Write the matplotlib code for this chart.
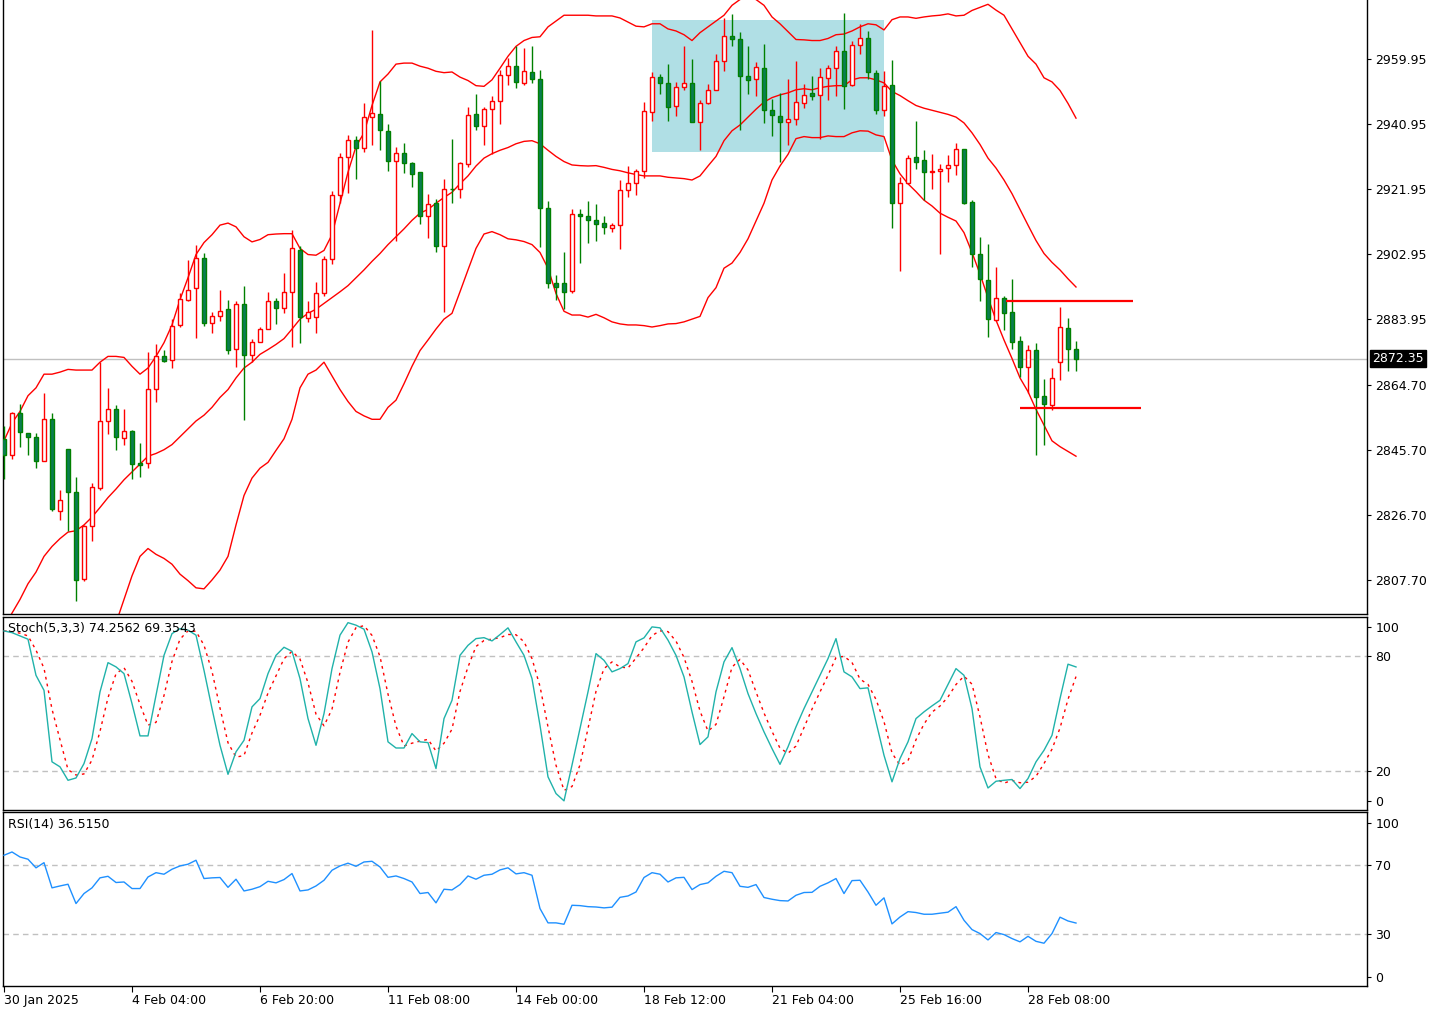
import matplotlib
matplotlib.use('Agg')
import matplotlib.pyplot as plt
from matplotlib.patches import Rectangle
import numpy as np
import pandas as pd

plt.rcParams['font.family'] = ['DejaVu Sans']

opens = [2848.9, 2844.1, 2856.3, 2850.6, 2849.5, 2842.3, 2854.7, 2827.9, 2845.8, 2833.2,
         2808.0, 2823.3, 2834.6, 2854.1, 2857.5, 2849.1, 2851.2, 2841.7, 2841.7, 2863.5,
         2873.1, 2872.0, 2882.2, 2889.4, 2892.9, 2901.9, 2882.8, 2884.9, 2886.8, 2875.3,
         2888.2, 2873.4, 2877.3, 2881.0, 2889.3, 2887.1, 2891.9, 2904.2, 2884.1, 2884.4,
         2891.6, 2901.5, 2920.1, 2931.2, 2936.3, 2934.1, 2943.0, 2943.8, 2938.9, 2930.2,
         2932.4, 2929.5, 2926.8, 2914.2, 2917.8, 2905.4, 2922.1, 2921.9, 2929.2, 2943.8,
         2940.4, 2945.5, 2947.7, 2955.3, 2957.9, 2953.0, 2956.2, 2954.1, 2916.3, 2894.6,
         2894.6, 2892.2, 2914.8, 2914.2, 2912.8, 2911.9, 2910.6, 2911.4, 2921.8, 2923.7,
         2927.2, 2944.5, 2954.7, 2953.0, 2946.2, 2951.8, 2953.1, 2941.5, 2947.0, 2950.8,
         2959.4, 2966.8, 2965.8, 2955.1, 2954.1, 2957.3, 2945.0, 2943.2, 2941.5, 2942.4,
         2947.2, 2950.1, 2949.5, 2954.5, 2957.3, 2962.2, 2952.4, 2964.2, 2966.0, 2955.9,
         2945.0, 2952.4, 2917.8, 2923.8, 2931.2, 2930.4, 2926.8, 2927.2, 2928.1, 2928.9,
         2933.6, 2918.3, 2903.1, 2895.4, 2883.7, 2890.2, 2885.9, 2877.4, 2869.9, 2875.0,
         2861.5, 2858.9, 2871.5, 2881.4, 2875.3]
highs = [2852.7, 2856.6, 2859.2, 2850.6, 2850.6, 2862.3, 2856.4, 2834.0, 2845.8, 2837.7,
         2823.7, 2835.9, 2871.3, 2863.8, 2858.9, 2857.5, 2851.6, 2847.8, 2874.2, 2876.5,
         2875.0, 2883.9, 2891.4, 2901.1, 2905.7, 2903.2, 2886.1, 2892.3, 2889.6, 2889.3,
         2893.7, 2878.1, 2881.6, 2891.7, 2890.2, 2897.3, 2910.1, 2905.4, 2889.1, 2894.8,
         2902.3, 2921.5, 2932.4, 2937.8, 2937.5, 2947.2, 2968.5, 2953.7, 2940.9, 2934.2,
         2935.3, 2930.0, 2926.8, 2920.6, 2918.9, 2924.9, 2936.5, 2930.0, 2945.9, 2949.9,
         2946.1, 2949.2, 2956.8, 2960.2, 2963.9, 2963.1, 2963.9, 2956.8, 2918.6, 2896.9,
         2903.4, 2916.0, 2916.0, 2918.6, 2917.5, 2914.0, 2912.0, 2924.6, 2928.7, 2927.9,
         2947.4, 2956.2, 2955.6, 2958.5, 2953.3, 2963.9, 2959.9, 2947.9, 2952.8, 2961.6,
         2971.9, 2973.1, 2968.0, 2963.7, 2959.1, 2964.5, 2948.4, 2950.1, 2954.2, 2959.4,
         2952.8, 2955.1, 2957.3, 2958.1, 2963.7, 2973.6, 2965.4, 2970.3, 2968.2, 2956.8,
         2956.4, 2959.6, 2925.4, 2931.8, 2941.9, 2933.5, 2932.3, 2929.2, 2931.9, 2935.3,
         2933.6, 2918.7, 2908.0, 2905.9, 2899.1, 2890.6, 2895.6, 2879.0, 2876.2, 2876.8,
         2866.4, 2869.6, 2887.4, 2884.1, 2877.6]
lows = [2837.2, 2843.0, 2846.6, 2844.1, 2840.3, 2842.3, 2827.7, 2825.2, 2822.0, 2801.5,
        2807.3, 2819.1, 2833.8, 2850.4, 2845.7, 2847.0, 2837.1, 2837.7, 2840.3, 2859.8,
        2871.3, 2869.6, 2881.6, 2889.1, 2878.4, 2881.8, 2879.8, 2883.3, 2873.6, 2869.8,
        2854.3, 2871.3, 2877.3, 2881.0, 2882.4, 2885.6, 2875.7, 2877.0, 2883.0, 2879.8,
        2890.6, 2900.0, 2917.8, 2920.9, 2925.0, 2932.9, 2934.7, 2933.3, 2927.3, 2906.9,
        2926.6, 2922.7, 2911.8, 2907.7, 2903.6, 2886.0, 2917.8, 2919.3, 2928.3, 2939.3,
        2934.7, 2932.3, 2940.9, 2952.4, 2951.4, 2952.4, 2953.0, 2904.9, 2892.9, 2889.6,
        2887.0, 2891.6, 2900.3, 2906.1, 2906.9, 2908.8, 2909.5, 2904.3, 2919.7, 2920.3,
        2925.2, 2941.9, 2949.9, 2941.9, 2943.3, 2950.8, 2941.7, 2933.3, 2946.7, 2950.8,
        2956.4, 2963.9, 2939.3, 2949.7, 2949.1, 2941.2, 2937.6, 2929.8, 2934.7, 2940.7,
        2945.6, 2947.9, 2936.7, 2947.9, 2949.3, 2945.3, 2952.0, 2961.4, 2954.1, 2943.9,
        2943.3, 2910.6, 2898.0, 2923.3, 2927.9, 2918.7, 2922.1, 2903.1, 2924.1, 2926.1,
        2917.5, 2899.2, 2889.3, 2878.7, 2883.3, 2880.8, 2875.1, 2867.0, 2862.3, 2844.1,
        2847.0, 2857.2, 2866.1, 2868.7, 2868.7]
closes = [2844.1, 2856.3, 2850.9, 2849.3, 2842.3, 2854.7, 2828.3, 2830.9, 2833.2, 2807.7,
          2823.3, 2834.7, 2854.1, 2857.5, 2849.3, 2851.2, 2841.5, 2841.3, 2863.5, 2873.2,
          2871.7, 2882.0, 2889.9, 2892.5, 2901.9, 2882.8, 2884.9, 2886.3, 2875.0, 2888.2,
          2873.4, 2877.3, 2881.0, 2889.3, 2887.1, 2891.9, 2904.6, 2884.4, 2886.0, 2891.6,
          2901.5, 2920.1, 2931.2, 2936.3, 2934.1, 2943.0, 2944.2, 2939.2, 2930.2, 2932.4,
          2929.5, 2926.5, 2914.2, 2917.6, 2905.4, 2922.1, 2921.9, 2929.5, 2943.6, 2940.4,
          2945.3, 2947.7, 2955.3, 2957.9, 2953.3, 2956.4, 2954.1, 2916.3, 2894.6, 2893.3,
          2891.7, 2914.8, 2914.0, 2912.8, 2911.7, 2910.9, 2911.3, 2921.8, 2923.7, 2927.2,
          2944.7, 2954.7, 2953.0, 2946.1, 2951.8, 2953.1, 2941.7, 2947.2, 2950.9, 2959.4,
          2966.8, 2965.8, 2955.1, 2953.9, 2957.6, 2945.0, 2943.6, 2941.5, 2942.4, 2947.4,
          2949.5, 2949.3, 2954.7, 2957.3, 2962.2, 2952.2, 2964.2, 2966.0, 2956.2, 2945.0,
          2952.2, 2917.8, 2923.8, 2931.0, 2929.8, 2926.9, 2927.2, 2927.9, 2928.9, 2933.6,
          2918.0, 2903.1, 2895.7, 2883.9, 2890.2, 2885.6, 2877.3, 2869.9, 2875.0, 2861.2,
          2859.0, 2866.7, 2881.6, 2875.3, 2872.35]

bb_upper = [2848.3, 2853.5, 2856.9, 2861.5, 2863.8, 2867.8, 2867.8, 2868.4, 2869.2, 2869.0,
            2869.0, 2869.0, 2871.3, 2873.0, 2873.0, 2872.7, 2870.1, 2867.8, 2869.6, 2873.0,
            2877.0, 2882.2, 2889.6, 2896.0, 2902.8, 2906.3, 2908.6, 2911.4, 2912.0, 2910.9,
            2908.0, 2906.5, 2907.2, 2908.6, 2908.8, 2908.9, 2908.9, 2904.6, 2902.8, 2902.6,
            2904.0, 2908.6, 2917.8, 2926.9, 2934.4, 2938.4, 2946.4, 2953.3, 2955.6, 2958.5,
            2958.8, 2958.8, 2957.9, 2957.3, 2956.4, 2956.0, 2956.2, 2954.7, 2953.7, 2952.2,
            2952.0, 2953.9, 2957.3, 2960.8, 2963.7, 2965.4, 2966.3, 2966.5, 2969.4, 2971.1,
            2972.8, 2972.8, 2972.8, 2972.8, 2972.6, 2972.6, 2972.6, 2972.0, 2970.8, 2969.6,
            2969.4, 2970.3, 2970.3, 2968.8, 2968.2, 2967.1, 2965.4, 2967.7, 2969.4, 2971.1,
            2972.8, 2975.7, 2977.4, 2978.0, 2977.4, 2975.7, 2972.3, 2970.3, 2968.0, 2965.7,
            2965.6, 2965.4, 2965.4, 2966.0, 2967.1, 2967.3, 2968.2, 2969.4, 2970.3, 2970.0,
            2968.5, 2971.5, 2972.3, 2972.3, 2971.9, 2972.3, 2972.6, 2972.8, 2973.2, 2972.6,
            2972.8, 2974.2, 2975.1, 2976.0, 2974.3, 2972.8, 2968.8, 2964.8, 2960.8, 2958.5,
            2954.5, 2953.3, 2950.8, 2947.0, 2942.7]
bb_mid = [2793.8, 2797.9, 2801.9, 2806.5, 2809.9, 2814.5, 2817.4, 2819.7, 2821.6, 2822.0,
          2823.7, 2826.0, 2828.8, 2831.7, 2834.2, 2836.9, 2839.2, 2841.5, 2843.8, 2844.6,
          2845.7, 2847.2, 2849.5, 2851.8, 2854.1, 2855.8, 2858.1, 2861.0, 2863.3, 2866.7,
          2869.6, 2871.3, 2873.6, 2875.0, 2876.5, 2878.2, 2881.0, 2883.9, 2885.6, 2886.8,
          2888.5, 2890.2, 2891.9, 2893.7, 2896.0, 2898.3, 2900.8, 2903.1, 2905.7, 2908.0,
          2910.3, 2912.8, 2914.9, 2916.0, 2917.8, 2919.5, 2921.0, 2923.5, 2925.8, 2928.7,
          2931.0, 2932.3, 2933.3, 2934.1, 2935.2, 2935.9, 2936.1, 2935.2, 2933.3, 2931.5,
          2930.0, 2929.0, 2928.8, 2928.7, 2928.8, 2928.3, 2927.7, 2927.3, 2926.7, 2926.2,
          2925.8, 2925.8, 2925.8, 2925.4, 2925.2, 2925.0, 2924.6, 2925.8, 2928.7, 2931.5,
          2936.1, 2939.0, 2940.7, 2943.0, 2945.3, 2947.4, 2948.7, 2949.5, 2950.1, 2951.0,
          2951.3, 2951.0, 2951.6, 2952.0, 2952.2, 2952.2, 2953.9, 2954.5, 2954.5, 2953.9,
          2953.0, 2950.5, 2949.3, 2947.8, 2946.4, 2945.6, 2945.0, 2944.4, 2943.8, 2943.0,
          2941.3, 2938.4, 2935.0, 2931.0, 2928.1, 2924.6, 2920.6, 2916.0, 2911.4, 2906.9,
          2903.1, 2900.5, 2898.3, 2895.7, 2893.3]
bb_lower = [2739.3, 2742.2, 2746.8, 2751.4, 2756.0, 2761.1, 2766.9, 2770.9, 2774.0, 2774.9,
            2778.3, 2782.9, 2786.4, 2790.4, 2795.0, 2801.9, 2808.8, 2814.5, 2816.8, 2815.1,
            2813.9, 2812.2, 2809.3, 2807.4, 2805.3, 2805.0, 2807.6, 2810.5, 2814.5, 2823.7,
            2832.3, 2837.4, 2840.3, 2842.0, 2845.5, 2848.9, 2854.6, 2863.8, 2867.8, 2869.0,
            2871.3, 2867.3, 2863.3, 2859.8, 2856.9, 2855.6, 2854.6, 2854.6, 2858.1, 2860.2,
            2865.0, 2870.1, 2874.7, 2877.8, 2881.0, 2883.9, 2885.6, 2891.9, 2898.3, 2904.6,
            2908.8, 2909.5, 2908.6, 2907.4, 2907.1, 2906.6, 2905.7, 2903.4, 2898.8, 2891.4,
            2886.2, 2885.1, 2885.1, 2884.5, 2885.3, 2884.3, 2883.1, 2882.5, 2882.2, 2882.2,
            2882.0, 2881.6, 2882.0, 2882.5, 2882.6, 2883.1, 2883.9, 2884.7, 2890.2, 2893.1,
            2898.8, 2900.3, 2903.4, 2907.4, 2912.6, 2917.8, 2924.6, 2928.7, 2932.1, 2936.7,
            2937.3, 2937.0, 2937.0, 2937.5, 2937.3, 2937.3, 2938.4, 2939.0, 2938.9, 2937.8,
            2937.3, 2930.4, 2926.4, 2923.5, 2921.2, 2918.7, 2917.0, 2914.9, 2913.7, 2912.6,
            2909.2, 2903.4, 2897.1, 2890.2, 2883.6, 2877.8, 2872.4, 2866.7, 2862.7, 2857.5,
            2852.9, 2848.3, 2846.6, 2845.2, 2843.8]

stoch_k = [93.0, 92.1, 90.4, 88.7, 69.9, 62.1, 24.9, 22.3, 15.3, 16.5,
           24.0, 37.0, 61.3, 76.5, 74.3, 70.8, 55.2, 38.4, 38.4, 59.5,
           80.3, 91.6, 94.2, 93.4, 90.8, 72.5, 52.6, 33.5, 18.4, 30.1,
           36.1, 53.5, 57.8, 70.8, 80.3, 84.5, 82.4, 68.2, 47.4, 33.5,
           50.0, 73.4, 90.8, 97.3, 96.0, 93.9, 82.1, 63.0, 35.3, 32.1,
           32.1, 39.6, 35.3, 34.9, 21.4, 47.4, 56.9, 80.3, 85.5, 89.0,
           89.5, 87.8, 91.1, 94.6, 87.3, 80.3, 68.2, 43.9, 17.1, 8.4,
           4.6, 23.2, 42.2, 61.3, 81.2, 77.7, 71.7, 73.4, 76.0, 87.3,
           89.4, 95.1, 94.6, 88.2, 80.3, 69.1, 50.9, 33.9, 37.9, 61.3,
           76.9, 84.3, 73.4, 60.4, 50.0, 40.5, 31.8, 23.6, 32.7, 43.1,
           52.6, 61.3, 69.9, 78.6, 89.0, 71.7, 69.1, 63.0, 63.4, 45.7,
           28.3, 14.5, 26.6, 35.3, 47.4, 50.9, 54.0, 56.9, 65.1, 73.4,
           69.9, 52.6, 22.3, 11.3, 14.8, 15.3, 15.7, 11.0, 16.2, 24.9,
           30.9, 38.7, 57.8, 75.7, 74.26]
rsi_vals = [75.8, 77.7, 74.8, 73.5, 68.5, 71.5, 56.9, 58.0, 59.0, 47.8,
            53.6, 56.9, 62.7, 63.6, 60.0, 60.3, 56.5, 56.5, 63.2, 65.7,
            64.8, 67.7, 69.6, 70.6, 72.9, 62.3, 62.7, 62.9, 57.2, 61.9,
            55.1, 56.1, 57.6, 60.7, 59.8, 61.7, 65.2, 55.1, 55.7, 58.0,
            61.3, 67.1, 69.6, 71.2, 69.4, 71.9, 72.3, 69.0, 63.0, 63.8,
            62.3, 60.3, 53.6, 54.2, 48.2, 56.1, 55.7, 58.8, 63.8, 61.9,
            64.2, 64.8, 67.3, 68.5, 65.0, 65.7, 64.2, 44.9, 36.6, 36.6,
            35.8, 46.8, 46.6, 46.0, 45.8, 45.3, 45.7, 51.4, 52.2, 54.5,
            62.9, 65.7, 64.8, 60.3, 62.7, 63.0, 55.9, 58.8, 59.8, 63.6,
            66.5, 65.7, 57.8, 57.2, 58.8, 51.3, 50.3, 49.5, 49.3, 52.6,
            54.2, 54.3, 57.8, 59.8, 62.3, 53.6, 61.1, 61.3, 54.5, 46.8,
            51.1, 36.0, 40.0, 43.1, 42.6, 41.6, 41.6, 42.2, 42.8, 46.0,
            38.1, 32.7, 30.4, 26.7, 31.0, 29.8, 27.5, 25.6, 28.8, 25.9,
            24.8, 30.4, 39.9, 37.7, 36.5]

price_ticks = [2959.95, 2940.95, 2921.95, 2902.95, 2883.95, 2864.70, 2845.70, 2826.70, 2807.70]
date_idx = [0, 16, 32, 48, 64, 80, 96, 112, 128]
date_labels = ['30 Jan 2025', '4 Feb 04:00', '6 Feb 20:00', '11 Feb 08:00', '14 Feb 00:00',
               '18 Feb 12:00', '21 Feb 04:00', '25 Feb 16:00', '28 Feb 08:00']
last_price = 2872.35
stoch_label = 'Stoch(5,3,3) 74.2562 69.3543'
rsi_label = 'RSI(14) 36.5150'
zone_start, zone_end = 81, 110
zone_low, zone_high = 2932.8, 2971.5
resist_level, resist_from, resist_to = 2889.2, 125.3, 141.1
support_level, support_from, support_to = 2858.0, 127.0, 142.1

W, H = 1431, 1009
fig = plt.figure(figsize=(W / 100, H / 100), dpi=100)


def px_axes(left, top, right, bottom):
    return fig.add_axes([left / W, 1 - bottom / H, (right - left) / W, (bottom - top) / H])


ax1 = px_axes(3, -1, 1367, 613.7)
ax2 = px_axes(3, 616.7, 1367, 809.7)
ax3 = px_axes(3, 812.3, 1367, 986)

x = np.arange(len(closes))
XL = (-0.125, 170.375)
FS = 9
GRID = '#C0C0C0'

for ax in (ax1, ax2, ax3):
    ax.set_xlim(*XL)
    ax.set_facecolor('white')
    for s in ax.spines.values():
        s.set_color('black')
        s.set_linewidth(1.0)
    ax.yaxis.tick_right()
    ax.tick_params(axis='y', direction='out', length=3, width=0.8, labelsize=FS, pad=3, colors='black')
    ax.tick_params(axis='x', bottom=False, labelbottom=False)
ax1.spines['top'].set_visible(False)

# ---- main price panel ----
ax1.set_ylim(2797.73, 2977.55)
ax1.add_patch(Rectangle((zone_start, zone_low), zone_end - zone_start, zone_high - zone_low,
                        facecolor='#B0DFE5', edgecolor='none', zorder=0.5))
ax1.axhline(last_price, color=GRID, lw=1.0, zorder=0.8)
ax1.plot(x, bb_upper, color='red', lw=1.0, zorder=2)
ax1.plot(x, bb_mid, color='red', lw=1.0, zorder=2)
ax1.plot(x, bb_lower, color='red', lw=1.0, zorder=2)

BULL = '#FF0000'
BEAR_EDGE = '#008000'
BEAR_FACE = '#0A7D52'
bw = 0.55
for i in range(len(closes)):
    o, h, l, c = opens[i], highs[i], lows[i], closes[i]
    bull = c >= o
    ax1.vlines(i, l, h, color=BULL if bull else BEAR_EDGE, lw=1.0, zorder=3)
    lo, hi = min(o, c), max(o, c)
    if bull:
        ax1.add_patch(Rectangle((i - bw / 2, lo), bw, hi - lo, facecolor='white',
                                edgecolor=BULL, lw=1.0, zorder=4))
    else:
        ax1.add_patch(Rectangle((i - bw / 2, lo), bw, hi - lo, facecolor=BEAR_FACE,
                                edgecolor=BEAR_EDGE, lw=1.0, zorder=4))

ax1.hlines(resist_level, resist_from, resist_to, color='red', lw=1.6, zorder=5)
ax1.hlines(support_level, support_from, support_to, color='red', lw=1.6, zorder=5)

ax1.set_yticks(price_ticks)
ax1.set_yticklabels(['%.2f' % v for v in price_ticks])
ax1.text(1.0035, last_price, '%.2f' % last_price, transform=ax1.get_yaxis_transform(),
         ha='left', va='center', fontsize=FS, color='white', zorder=10, clip_on=False,
         bbox=dict(boxstyle='square,pad=0.18', facecolor='black', edgecolor='black'))

# ---- stochastic panel ----
ax2.set_ylim(0, 100.4)
stoch_d = pd.Series(stoch_k).rolling(3, min_periods=1).mean()
for lvl in (20, 80):
    ax2.axhline(lvl, color=GRID, lw=1.0, ls=(0, (4, 3)), zorder=1)
ax2.plot(x, stoch_k, color='#20B2AA', lw=1.0, zorder=3)
ax2.plot(x, stoch_d, color='red', lw=1.0, ls=(0, (2, 3)), zorder=2)
ax2.set_yticks([95.0, 80, 20, 4.5])
ax2.set_yticklabels(['100', '80', '20', '0'])
ax2.text(0.0037, 0.941, stoch_label, transform=ax2.transAxes, ha='left', va='center',
         fontsize=FS, color='black', zorder=10)

# ---- RSI panel ----
ax3.set_ylim(0, 100.7)
for lvl in (30, 70):
    ax3.axhline(lvl, color=GRID, lw=1.0, ls=(0, (4, 3)), zorder=1)
ax3.plot(x, rsi_vals, color='#1E90FF', lw=1.0, zorder=3)
ax3.set_yticks([94.5, 70, 30, 5.2])
ax3.set_yticklabels(['100', '70', '30', '0'])
ax3.text(0.0037, 0.927, rsi_label, transform=ax3.transAxes, ha='left', va='center',
         fontsize=FS, color='black', zorder=10)

ax3.tick_params(axis='x', bottom=True, labelbottom=True, direction='out', length=4,
                width=0.8, labelsize=FS, pad=2)
ax3.set_xticks(date_idx)
ax3.set_xticklabels(date_labels, ha='left')

fig.savefig('out.png', dpi=100, facecolor='white')
